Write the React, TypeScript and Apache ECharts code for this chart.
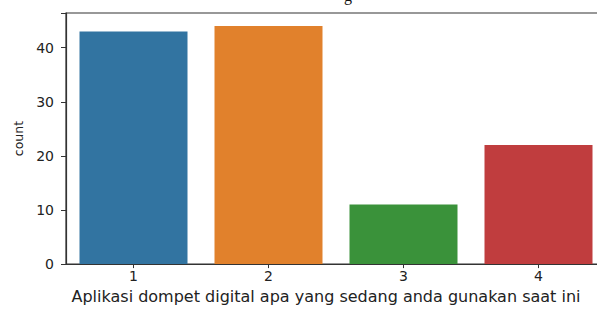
import React, { useEffect, useRef } from "react";
import * as echarts from "echarts";

const categories = ["1", "2", "3", "4"];
const counts = [43, 44, 11, 22];
const barColors = ["#3274a1", "#e1812c", "#3a923a", "#c03d3e"];
const yTicks = [0, 10, 20, 30, 40];
const xAxisTitle = "Aplikasi dompet digital apa yang sedang anda gunakan saat ini";
const yAxisTitle = "count";

export default function App() {
  const ref = useRef<HTMLDivElement>(null);
  useEffect(() => {
    if (!ref.current) return;
    const chart = echarts.init(ref.current, undefined, { renderer: "svg" });
    const font = "DejaVu Sans";
    chart.setOption({
      animation: false,
      backgroundColor: "#ffffff",
      grid: { left: 66, right: 14, top: 13, bottom: 38, containLabel: false, show: true, borderColor: "#333", borderWidth: 1.2, backgroundColor: "transparent" },
      xAxis: {
        type: "category",
        data: categories,
        name: xAxisTitle,
        nameLocation: "middle",
        nameGap: 20,
        nameTextStyle: { fontFamily: font, fontSize: 16, color: "#222", padding: [0, 20, 0, 0] },
        axisLine: { show: true, lineStyle: { color: "#333", width: 1.2 } },
        axisTick: { show: true, alignWithLabel: true, length: 4, lineStyle: { color: "#333" } },
        axisLabel: { fontFamily: font, fontSize: 14, color: "#222", margin: 5 },
      },
      yAxis: {
        type: "value",
        min: 0,
        max: 46.4,
        interval: 10,
        name: yAxisTitle,
        nameLocation: "middle",
        nameGap: 39,
        nameRotate: 90,
        nameTextStyle: { fontFamily: font, fontSize: 12.5, color: "#222" },
        splitLine: { show: false },
        axisLine: { show: true, lineStyle: { color: "#333", width: 1.2 } },
        axisTick: { show: true, length: 5, lineStyle: { color: "#333" } },
        axisLabel: {
          fontFamily: font,
          fontSize: 14,
          color: "#222",
          margin: 12,
          formatter: (v: number) => (yTicks.includes(v) ? String(v) : ""),
        },
      },
      graphic: [
        {
          type: "text",
          left: 344,
          top: -13,
          style: { text: "g", font: "16px 'Liberation Serif'", fill: "#111" },
        },
      ],
      series: [
        {
          type: "bar",
          barWidth: "80%",
          data: counts.map((v, i) => ({ value: v, itemStyle: { color: barColors[i] } })),
        },
      ],
    });
    return () => chart.dispose();
  }, []);
  return (
    <div style={{ position: "fixed", left: 0, top: 0, width: 597, height: 309, overflow: "hidden", background: "#fff" }}>
      <div ref={ref} style={{ width: 620, height: 309 }} />
    </div>
  );
}
